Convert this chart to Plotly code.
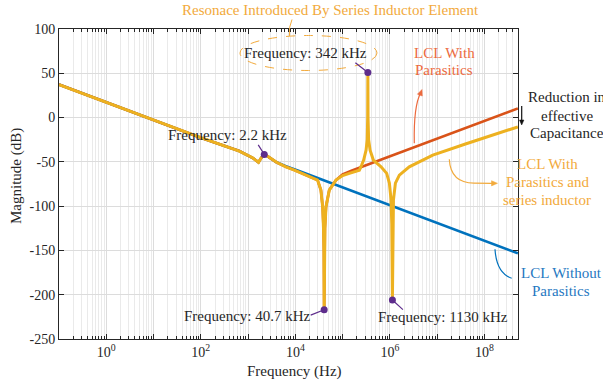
import numpy as np
import plotly.graph_objects as go

# ---------------- magnitude data (frequency in Hz, magnitude in dB) ----------------
# low-frequency section shared by every filter variant (incl. the 2.2 kHz resonance)
f_common = [0.1, 100, 650, 1240, 1660, 1900, 2200, 2450, 2700]
m_common = [37.3, -22.7, -37.8, -45.4, -50.6, -45.4, -41.6, -43.5, -44.3]

# ideal LCL above the resonance
f_ideal = [4000, 6300, 12000, 5.1e8]
m_ideal = [-50.5, -55.0, -60.4, -153.3]

# parasitic capacitor branch: approach to and recovery from the 40.7 kHz notch
f_notch = [4000, 6300, 9550, 16800, 29500, 34700, 37800, 39400, 40200, 40700,
           41200, 42200, 44500, 52200, 72400]
m_notch = [-50.5, -55.6, -59.3, -65.0, -70.6, -81.9, -100.7, -125, -150, -217,
           -150, -125, -100.7, -81.9, -70.6]

# LCL with parasitics above the notch
f_par = [100000, 158000, 5.1e8]
m_par = [-64.2, -59.8, 10.4]

# LCL with parasitics and series inductor above the notch
f_ser = [100000, 138700, 226000, 251000, 278600, 313300, 331000, 338800, 342000,
         345100, 354800, 381100, 446700, 650100, 855100, 975000, 1059000, 1096000,
         1130000, 1161000, 1189000, 1309000, 1585000, 2570000, 8072000, 41110000, 5.1e8]
m_ser = [-65.5, -63.0, -59.4, -54.0, -48.0, -36.8, -25.0, 0.0, 50.9,
         0.0, -25.0, -36.8, -48.0, -55.6, -63.0, -74.0, -93.0, -120.0,
         -206.0, -120.0, -93.0, -74.0, -65.0, -55.6, -42.4, -29.6, -10.5]

# data tips
tip_f = [2200, 40700, 342000, 1130000]
tip_m = [-41.6, -217.0, 50.9, -206.0]
tip_text = ["Frequency: 2.2 kHz", "Frequency: 40.7 kHz",
            "Frequency: 342 kHz", "Frequency: 1130 kHz"]

# axis ticks
x_decades = list(range(-1, 9))
y_ticks = [-250, -200, -150, -100, -50, 0, 50, 100]

# ---------------- styling ----------------
FONT = "Liberation Serif"
AX = "#262626"
C_BLUE, C_RED, C_YEL = "#0072BD", "#D95319", "#EDB120"
T_BLUE, T_RED, T_YEL = "#1F78C1", "#EC6A3E", "#F2AA3C"
PURPLE = "#5E2D8C"

W, H = 603, 383
ML, MR, MT, MB = 59, 85, 29, 44
PW, PH = W - ML - MR, H - MT - MB


def px(x, y):
    """pixel position -> paper coordinates"""
    return (x - ML) / PW, (H - MB - y) / PH


def path(points, close=False):
    parts = []
    for i, p in enumerate(points):
        if p[0] == "Q":
            c = px(*p[1]); e = px(*p[2])
            parts.append("Q %.5f,%.5f %.5f,%.5f" % (c[0], c[1], e[0], e[1]))
        else:
            q = px(*p)
            parts.append(("M " if i == 0 else "L ") + "%.5f,%.5f" % q)
    return " ".join(parts) + (" Z" if close else "")


def head(tip, frm, size=6.0, half=2.6):
    d = np.array(tip, float) - np.array(frm, float)
    d /= np.hypot(*d)
    n = np.array([-d[1], d[0]])
    base = np.array(tip) - d * size
    return path([tuple(tip), tuple(base + n * half), tuple(base - n * half)], close=True)


fig = go.Figure()
fig.add_trace(go.Scatter(x=f_common + f_ideal, y=m_common + m_ideal, mode="lines",
                         line=dict(color=C_BLUE, width=2.6), name="LCL Without Parasitics"))
fig.add_trace(go.Scatter(x=f_common + f_notch + f_par, y=m_common + m_notch + m_par,
                         mode="lines", line=dict(color=C_RED, width=2.6),
                         name="LCL With Parasitics"))
fig.add_trace(go.Scatter(x=f_common + f_notch + f_ser, y=m_common + m_notch + m_ser,
                         mode="lines", line=dict(color=C_YEL, width=3.0),
                         name="LCL With Parasitics and series inductor"))
fig.add_trace(go.Scatter(x=tip_f, y=tip_m, mode="markers",
                         marker=dict(color=PURPLE, size=7), name="tips"))

ann = []
# leader lines from data tips
offsets = [(-7, -11), (-15, 6), (-14, -11), (12, 11)]
for f, m, (dx, dy) in zip(tip_f, tip_m, offsets):
    ann.append(dict(x=np.log10(f), y=m, xref="x", yref="y", text="", showarrow=True,
                    arrowhead=0, arrowwidth=1.2, arrowcolor=PURPLE, ax=dx, ay=dy,
                    standoff=0, startstandoff=0))


def label(text, x, y, color=AX, anchor="center", size=15):
    xp, yp = px(x, y)
    ann.append(dict(x=xp, y=yp, xref="paper", yref="paper", text=text, showarrow=False,
                    xanchor=anchor, yanchor="middle",
                    font=dict(family=FONT, size=size, color=color)))


label(tip_text[0], 227, 135)
label(tip_text[1], 181.5, 316, anchor="left")
label(tip_text[2], 305.5, 52.7)
label(tip_text[3], 442.8, 316.7)
label("Resonace Introduced By Series Inductor Element", 330, 10, T_YEL)
label("LCL With", 444, 52.7, T_RED)
label("Parasitics", 444, 70.2, T_RED)
label("Reduction in", 567, 97.3)
label("effective", 567, 115.5)
label("Capacitance", 567, 133.3)
label("LCL With", 547, 164, T_YEL)
label("Parasitics and", 547, 181.8, T_YEL)
label("series inductor", 547, 199.6, T_YEL)
label("LCL Without", 561, 273.3, T_BLUE)
label("Parasitics", 561, 291, T_BLUE)
label("Frequency (Hz)", 294, 371.5)
xp, yp = px(16, 176)
ann.append(dict(x=xp, y=yp, xref="paper", yref="paper", text="Magnitude (dB)",
                showarrow=False, textangle=-90, xanchor="center", yanchor="middle",
                font=dict(family=FONT, size=15, color=AX)))

shapes = []
e0, e1 = px(240, 70.5), px(377, 35.5)
shapes.append(dict(type="circle", xref="paper", yref="paper", x0=e0[0], y0=e0[1],
                   x1=e1[0], y1=e1[1], line=dict(color=T_YEL, width=1, dash="dash")))
shapes.append(dict(type="path", xref="paper", yref="paper",
                   path=path([(292, 19.5), ("Q", (288.5, 27), (289.5, 36))]),
                   line=dict(color=T_YEL, width=1)))
# red pointer
shapes.append(dict(type="path", xref="paper", yref="paper",
                   path=path([(414.3, 143.3), ("Q", (413.5, 106), (420.8, 92.5))]),
                   line=dict(color=T_RED, width=1.2)))
shapes.append(dict(type="path", xref="paper", yref="paper",
                   path=head((422, 89.5), (419.5, 96)), fillcolor=T_RED,
                   line=dict(color=T_RED, width=0.5)))
# yellow pointer
shapes.append(dict(type="path", xref="paper", yref="paper",
                   path=path([(449.3, 159.3), ("Q", (450.5, 183), (474, 183.2)), (492, 183.3)]),
                   line=dict(color=T_YEL, width=1.2)))
shapes.append(dict(type="path", xref="paper", yref="paper",
                   path=head((497.5, 183.3), (490, 183.3)), fillcolor=T_YEL,
                   line=dict(color=T_YEL, width=0.5)))
# blue pointer
shapes.append(dict(type="path", xref="paper", yref="paper",
                   path=path([(495, 249.3), ("Q", (496.5, 273), (511.7, 278.3))]),
                   line=dict(color=C_BLUE, width=1.2)))
# capacitance reduction arrow
shapes.append(dict(type="line", xref="paper", yref="paper",
                   x0=px(521.7, 106)[0], y0=px(521.7, 106)[1],
                   x1=px(521.7, 121)[0], y1=px(521.7, 121)[1],
                   line=dict(color="#111111", width=1.2)))
shapes.append(dict(type="path", xref="paper", yref="paper",
                   path=head((521.7, 125), (521.7, 118), size=5, half=2.2),
                   fillcolor="#111111", line=dict(color="#111111", width=0.5)))

fig.update_layout(
    width=W, height=H,
    margin=dict(l=ML, r=MR, t=MT, b=MB, pad=0),
    plot_bgcolor="white", paper_bgcolor="white",
    showlegend=False, hovermode=False,
    font=dict(family=FONT, size=14, color=AX),
    annotations=ann, shapes=shapes,
    xaxis=dict(
        type="log", range=[-1, 8.71],
        tickmode="array", tickvals=[10.0 ** k for k in x_decades],
        ticktext=["10<sup>%d</sup>" % k if k % 2 == 0 else "" for k in x_decades],
        ticks="inside", ticklen=5, tickcolor=AX, tickwidth=1,
        showline=True, linecolor=AX, linewidth=1, mirror="allticks",
        showgrid=True, gridcolor="#DCDCDC", gridwidth=1, zeroline=False,
        tickfont=dict(family=FONT, size=14, color=AX),
        minor=dict(tickvals=[m * 10.0 ** k for k in x_decades for m in range(2, 10)],
                   ticks="inside", ticklen=3, tickcolor=AX,
                   showgrid=True, gridcolor="#EAEAEA", gridwidth=1),
    ),
    yaxis=dict(
        range=[-250, 100], tickmode="array", tickvals=y_ticks,
        ticktext=[str(v) for v in y_ticks],
        ticks="inside", ticklen=5, tickcolor=AX, tickwidth=1,
        showline=True, linecolor=AX, linewidth=1, mirror="allticks",
        showgrid=True, gridcolor="#DCDCDC", gridwidth=1, zeroline=False,
        tickfont=dict(family=FONT, size=14, color=AX),
    ),
)

fig.write_html("out.html")
